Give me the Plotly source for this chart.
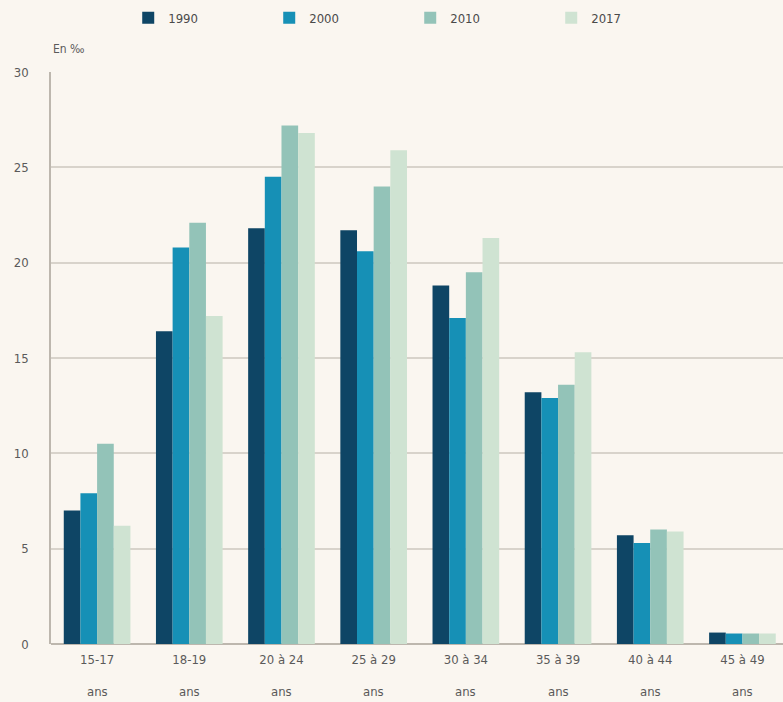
import plotly.graph_objects as go

# Taux de fécondité par groupe d'âge (en ‰)
categories = ["15-17", "18-19", "20 à 24", "25 à 29",
              "30 à 34", "35 à 39", "40 à 44", "45 à 49"]
unit_line = "ans"
years = ["1990", "2000", "2010", "2017"]
v1990 = [7.0, 16.4, 21.8, 21.7, 18.8, 13.2, 5.7, 0.6]
v2000 = [7.9, 20.8, 24.5, 20.6, 17.1, 12.9, 5.3, 0.55]
v2010 = [10.5, 22.1, 27.2, 24.0, 19.5, 13.6, 6.0, 0.55]
v2017 = [6.2, 17.2, 26.8, 25.9, 21.3, 15.3, 5.9, 0.55]
series = [v1990, v2000, v2010, v2017]
colors = ["#0e4565", "#1690b6", "#93c3b8", "#cfe3d2"]
y_ticks = [0, 5, 10, 15, 20, 25, 30]

FONT = "DejaVu Sans Condensed, Liberation Sans, sans-serif"
BG = "#faf6f0"
TXT = "#5a5a5a"

fig = go.Figure()
for name, vals, col in zip(years, series, colors):
    fig.add_trace(go.Bar(x=list(range(len(categories))), y=vals, name=name,
                         marker=dict(color=col, line=dict(width=0))))

fig.update_layout(
    width=783, height=702,
    margin=dict(l=51, r=0, t=72, b=58),
    paper_bgcolor=BG, plot_bgcolor=BG,
    barmode="group", bargap=0.277, bargroupgap=0,
    font=dict(family=FONT, size=13, color=TXT),
    showlegend=True,
    legend=dict(orientation="h", x=0.1055, xref="paper", y=0.996, yref="container",
                yanchor="top", xanchor="left",
                entrywidth=96, entrywidthmode="pixels",
                itemwidth=30, font=dict(size=13, color="#4a4a4a"),
                bgcolor="rgba(0,0,0,0)", traceorder="normal"),
    xaxis=dict(tickmode="array", tickvals=list(range(len(categories))),
               ticktext=categories, range=[-0.5, 7.44],
               showgrid=False, zeroline=False, showline=False, ticks="",
               ticklabelstandoff=6,
               tickfont=dict(size=13, color=TXT)),
    yaxis=dict(range=[0, 30], tickvals=y_ticks, showgrid=True,
               gridcolor="#d8d3cb", gridwidth=1.5,
               zeroline=True, zerolinecolor="#bdb7ae", zerolinewidth=1.5,
               showline=True, linecolor="#bdb7ae", linewidth=1.5,
               ticks="", ticklabelstandoff=18,
               tickfont=dict(size=13, color=TXT)),
)

# second line of each age-group label
for i in range(len(categories)):
    fig.add_annotation(text=unit_line, x=i, y=0, xref="x", yref="y",
                       yanchor="top", yshift=-38, showarrow=False,
                       font=dict(size=13, color=TXT))

# unit label above the value axis
fig.add_annotation(text="En ‰", xref="paper", yref="paper", x=0.0, y=1.0,
                   xanchor="left", yanchor="bottom", yshift=14, showarrow=False,
                   font=dict(size=12, color=TXT))

fig.write_html("out.html")
